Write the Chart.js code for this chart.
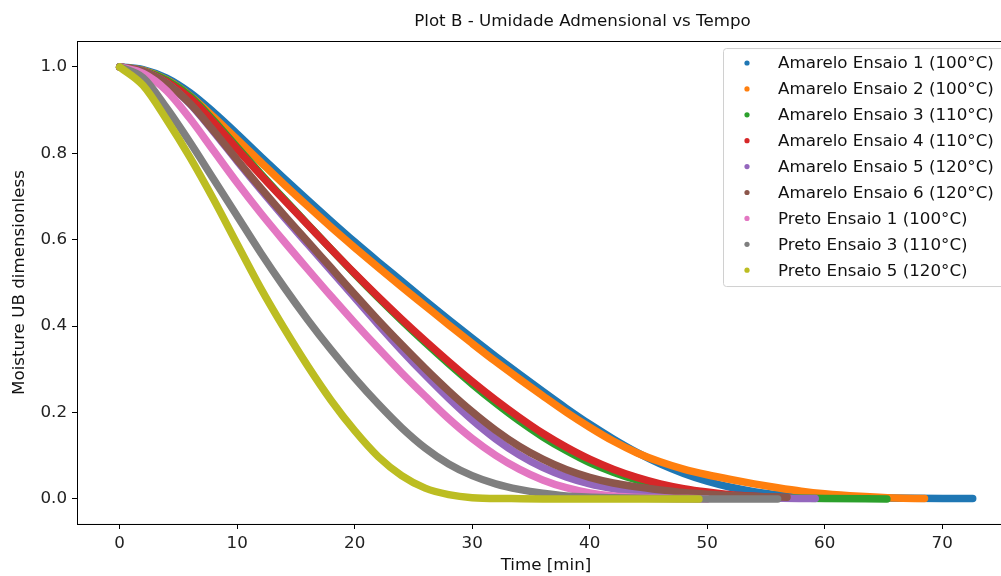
<html>
<head>
<title>Plot B - Umidade Admensional vs Tempo</title>
<script src="https://cdn.jsdelivr.net/npm/chart.js"></script>
<style>
  html, body { margin: 0; padding: 0; overflow: hidden; background: #fff; }
  #wrap { width: 1166px; height: 576px; }
</style>
</head>
<body>
<div id="wrap"><canvas id="myChart" width="1166" height="576"></canvas></div>
<script>
// values (time in min, moisture dimensionless)
const labels = [
  "Amarelo Ensaio 1 (100°C)", "Amarelo Ensaio 2 (100°C)", "Amarelo Ensaio 3 (110°C)",
  "Amarelo Ensaio 4 (110°C)", "Amarelo Ensaio 5 (120°C)", "Amarelo Ensaio 6 (120°C)",
  "Preto Ensaio 1 (100°C)", "Preto Ensaio 3 (110°C)", "Preto Ensaio 5 (120°C)"
];
const colors = ['#1f77b4', '#ff7f0e', '#2ca02c', '#d62728', '#9467bd', '#8c564b', '#e377c2', '#7f7f7f', '#bcbd22'];

const amarelo1T = [0,2,4,6,8,10,12,14,16,18,20,22,24,26,28,30,32,34,36,38,40,42,44,46,48,50,52,54,56,60,65,72.6];
const amarelo1Y = [1.0,0.994,0.974,0.94,0.895,0.845,0.793,0.742,0.692,0.643,0.595,0.549,0.504,0.459,0.415,0.372,0.33,0.289,0.249,0.21,0.173,0.139,0.108,0.081,0.059,0.041,0.027,0.017,0.01,0.004,0.002,0.001];

const amarelo2T = [0,2,4,6,8,10,12,14,16,18,20,22,24,26,28,30,32,34,36,38,40,42,44,46,48,50,52,54,56,58,60,63,66,68.5];
const amarelo2Y = [1.0,0.992,0.97,0.933,0.884,0.832,0.78,0.728,0.678,0.629,0.582,0.536,0.491,0.447,0.403,0.36,0.318,0.278,0.239,0.201,0.166,0.134,0.107,0.086,0.069,0.056,0.045,0.035,0.026,0.018,0.012,0.006,0.002,0.001];

const amarelo3T = [0,2,4,6,8,10,12,14,16,18,20,22,24,26,28,30,32,34,36,38,40,42,44,46,48,50,52,54,56,60,65.3];
const amarelo3Y = [1.0,0.991,0.969,0.932,0.876,0.814,0.753,0.694,0.636,0.578,0.521,0.466,0.413,0.362,0.313,0.266,0.222,0.181,0.144,0.112,0.084,0.062,0.044,0.03,0.02,0.013,0.008,0.005,0.003,0.001,0.0];

const amarelo4T = [0,2,4,6,8,10,12,14,16,18,20,22,24,26,28,30,32,34,36,38,40,42,44,46,48,50,52,54,57];
const amarelo4Y = [1.0,0.99,0.966,0.928,0.872,0.81,0.75,0.692,0.635,0.578,0.522,0.468,0.416,0.366,0.318,0.272,0.229,0.189,0.152,0.12,0.092,0.069,0.05,0.035,0.024,0.016,0.01,0.006,0.002];

const amarelo5T = [0,2,4,6,8,10,12,14,16,18,20,22,24,26,28,30,32,34,36,38,40,42,44,46,50,55,59.2];
const amarelo5Y = [1.0,0.99,0.962,0.914,0.85,0.782,0.716,0.652,0.59,0.528,0.466,0.404,0.344,0.287,0.233,0.183,0.139,0.102,0.073,0.051,0.035,0.024,0.016,0.011,0.005,0.002,0.001];

const amarelo6T = [0,2,4,6,8,10,12,14,16,18,20,22,24,26,28,30,32,34,36,38,40,42,44,46,48,50,53,56.8];
const amarelo6Y = [1.0,0.99,0.962,0.915,0.852,0.785,0.72,0.657,0.596,0.535,0.474,0.414,0.357,0.302,0.25,0.202,0.159,0.122,0.092,0.068,0.05,0.037,0.028,0.021,0.015,0.011,0.007,0.004];

const preto1T = [0,2,4,6,8,10,12,14,16,18,20,22,24,26,28,30,32,34,36,38,40,42,45,50];
const preto1Y = [1.0,0.985,0.945,0.88,0.806,0.732,0.662,0.596,0.532,0.469,0.408,0.349,0.292,0.238,0.186,0.14,0.101,0.069,0.044,0.026,0.014,0.007,0.003,0.0];

const preto3T = [0,2,4,6,8,10,12,14,16,18,20,22,24,26,28,30,32,34,36,38,42,46,50,56];
const preto3Y = [1.0,0.975,0.905,0.825,0.74,0.655,0.57,0.49,0.415,0.345,0.28,0.22,0.165,0.118,0.081,0.054,0.035,0.022,0.013,0.007,0.003,0.001,0.0,0.0];

const preto5T = [0,2,4,6,8,10,12,14,16,18,20,22,24,26,28,30,33,36,42,49.3];
const preto5Y = [1.0,0.957,0.878,0.79,0.693,0.59,0.488,0.395,0.308,0.228,0.158,0.098,0.054,0.025,0.01,0.003,0.001,0.0,0.0,0.0];

const seriesT = [amarelo1T, amarelo2T, amarelo3T, amarelo4T, amarelo5T, amarelo6T, preto1T, preto3T, preto5T];
const seriesY = [amarelo1Y, amarelo2Y, amarelo3Y, amarelo4Y, amarelo5Y, amarelo6Y, preto1Y, preto3Y, preto5Y];

const xTicks = [0, 10, 20, 30, 40, 50, 60, 70];
const yTicks = [0.0, 0.2, 0.4, 0.6, 0.8, 1.0];

Chart.defaults.font.family = "'DejaVu Sans', sans-serif";
Chart.defaults.font.size = 16.7;
Chart.defaults.color = '#222';

const datasets = labels.map((lab, i) => ({
  label: lab,
  data: seriesT[i].map((t, j) => ({ x: t, y: seriesY[i][j] })),
  showLine: true,
  borderColor: colors[i],
  backgroundColor: colors[i],
  borderWidth: 7.5,
  borderCapStyle: 'round',
  borderJoinStyle: 'round',
  cubicInterpolationMode: 'monotone',
  pointRadius: 0,
  order: labels.length - i   // last series drawn on top, like matplotlib
}));

// full box round the axes
const frame = {
  id: 'frame',
  afterDraw(chart) {
    const {ctx, chartArea: a} = chart;
    ctx.save();
    ctx.strokeStyle = '#000';
    ctx.lineWidth = 1;
    ctx.strokeRect(Math.round(a.left) + 0.5, Math.round(a.top) + 0.5, a.right - a.left, a.bottom - a.top);
    ctx.restore();
  }
};

// legend box in the upper right corner of the axes
const legendBox = {
  id: 'legendBox',
  afterDraw(chart) {
    const ctx = chart.ctx;
    const a = chart.chartArea;
    const x = 723.5, y = a.top + 7.5, w = a.right - 7 - x, h = 238;
    ctx.save();
    ctx.fillStyle = 'rgba(255,255,255,0.8)';
    ctx.strokeStyle = '#d0d0d0';
    ctx.lineWidth = 1;
    ctx.beginPath();
    ctx.roundRect(x, y, w, h, 3);
    ctx.fill();
    ctx.stroke();
    ctx.font = "16.7px 'DejaVu Sans'";
    ctx.textBaseline = 'middle';
    labels.forEach((lab, i) => {
      const cy = 63 + i * 25.9;
      ctx.fillStyle = colors[i];
      ctx.beginPath();
      ctx.arc(747, cy, 2.6, 0, Math.PI * 2);
      ctx.fill();
      ctx.fillStyle = '#111';
      ctx.fillText(lab, 778, cy + 1);
    });
    ctx.restore();
  }
};

new Chart(document.getElementById('myChart'), {
  type: 'scatter',
  data: { datasets: datasets },
  options: {
    responsive: false,
    animation: false,
    layout: { padding: { right: 1 } },
    plugins: {
      legend: { display: false },
      tooltip: { enabled: false },
      title: {
        display: true,
        text: 'Plot B - Umidade Admensional vs Tempo',
        color: '#111',
        font: { size: 16.7, weight: 'normal' },
        padding: { top: 12, bottom: 9 }
      }
    },
    scales: {
      x: {
        type: 'linear',
        min: -3.63,
        max: 76.2,
        afterFit: s => { s.height = 52; },
        afterBuildTicks: s => { s.ticks = xTicks.map(v => ({ value: v })); },
        ticks: { padding: 5, callback: v => String(v) },
        grid: { display: true, drawOnChartArea: false, drawTicks: true, tickLength: 5, color: '#000' },
        border: { display: true, color: '#000', width: 1 },
        title: { display: true, text: 'Time [min]', color: '#111', padding: { top: 0, bottom: 0 } }
      },
      y: {
        type: 'linear',
        min: -0.058,
        max: 1.06,
        afterFit: s => { s.width = 77; },
        afterBuildTicks: s => { s.ticks = yTicks.map(v => ({ value: v })); },
        ticks: { padding: 5, callback: v => v.toFixed(1) },
        grid: { display: true, drawOnChartArea: false, drawTicks: true, tickLength: 5, color: '#000' },
        border: { display: true, color: '#000', width: 1 },
        title: { display: true, text: 'Moisture UB dimensionless', color: '#111', padding: { top: 10, bottom: 0 } }
      },
      // empty space on the right, past the visible edge, so the title sits where it does in the picture
      spacer: {
        type: 'linear',
        position: 'right',
        min: 0,
        max: 1,
        afterFit: s => { s.width = 150; },
        ticks: { display: false },
        grid: { display: false },
        border: { display: false }
      }
    }
  },
  plugins: [frame, legendBox]
});
</script>
</body>
</html>
